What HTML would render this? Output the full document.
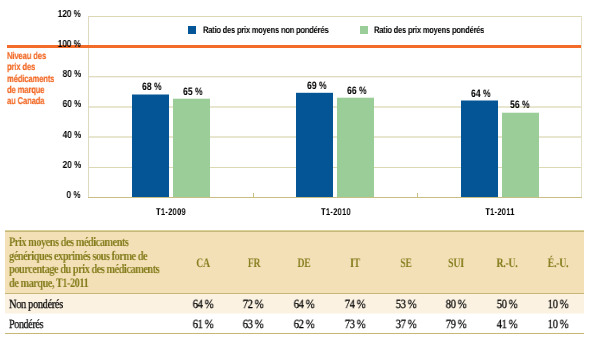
<!DOCTYPE html>
<html><head><meta charset="utf-8">
<style>
html,body{margin:0;padding:0;background:#fff;}
body{width:598px;height:343px;position:relative;overflow:hidden;font-family:"Liberation Sans",sans-serif;text-rendering:geometricPrecision;}
.a{position:absolute;white-space:nowrap;}
.s{font-family:"Liberation Sans",sans-serif;font-weight:bold;color:#000;line-height:12px;}
.g{position:absolute;left:88px;width:494px;height:1px;background:#dcd8b4;}
.serif{font-family:"Liberation Serif",serif;}
div[style*="transform"]{will-change:transform;}
</style></head><body>

<div class="g" style="top:16px"></div>
<div class="g" style="top:167px"></div>
<div class="g" style="top:76px;background:#e0dcbd"></div>
<div class="g" style="top:77px;background:#f4f2e8"></div>
<div class="g" style="top:106px;height:2px;background:#e9e6cf"></div>
<div class="g" style="top:136px;height:2px;background:#e9e6cf"></div>
<div class="a" style="left:88px;top:16px;width:1px;height:182px;background:#dedac0"></div>
<div class="a" style="left:581px;top:16px;width:1px;height:182px;background:#e3e0ca"></div>
<div class="a" style="left:253px;top:193px;width:1px;height:4px;background:#c9be84"></div>
<div class="a" style="left:417px;top:193px;width:1px;height:4px;background:#c9be84"></div>
<div class="a" style="left:7px;top:45px;width:574px;height:3px;background:#f26b28"></div>
<div class="a s" style="right:517px;top:9.7px;font-size:10.2px;line-height:10px;transform:scaleX(0.8);transform-origin:right top">120 %</div>
<div class="a s" style="right:517px;top:39.7px;font-size:10.2px;line-height:10px;transform:scaleX(0.8);transform-origin:right top">100 %</div>
<div class="a s" style="right:517px;top:69.7px;font-size:10.2px;line-height:10px;transform:scaleX(0.8);transform-origin:right top">80 %</div>
<div class="a s" style="right:517px;top:99.7px;font-size:10.2px;line-height:10px;transform:scaleX(0.8);transform-origin:right top">60 %</div>
<div class="a s" style="right:517px;top:130.7px;font-size:10.2px;line-height:10px;transform:scaleX(0.8);transform-origin:right top">40 %</div>
<div class="a s" style="right:517px;top:160.7px;font-size:10.2px;line-height:10px;transform:scaleX(0.8);transform-origin:right top">20 %</div>
<div class="a s" style="right:517px;top:190.7px;font-size:10.2px;line-height:10px;transform:scaleX(0.8);transform-origin:right top">0 %</div>
<div class="a" style="left:7px;top:50.7px;font-weight:bold;font-size:10px;line-height:11.3px;letter-spacing:-0.15px;color:#f26b28;-webkit-text-stroke:0.2px #f26b28;transform:scaleX(0.76);transform-origin:left top">Niveau des<br>prix des<br>médicaments<br>de marque<br>au Canada</div>
<div class="a" style="left:188px;top:26px;width:8px;height:8px;background:#035596"></div>
<div class="a s" style="left:203px;top:26px;font-size:9.5px;line-height:10px;letter-spacing:-0.3px;transform:scaleX(0.8);transform-origin:left top">Ratio des prix moyens non pondérés</div>
<div class="a" style="left:360px;top:26px;width:8px;height:8px;background:#9bcd99"></div>
<div class="a s" style="left:374px;top:26px;font-size:9.5px;line-height:10px;letter-spacing:-0.3px;transform:scaleX(0.8);transform-origin:left top">Ratio des prix moyens pondérés</div>
<div class="a" style="left:132px;top:95px;width:37px;height:102px;background:#035596"></div>
<div class="a" style="left:132px;top:94px;width:37px;height:1px;background:#035596;opacity:0.50"></div>
<div class="a s" style="left:142px;top:82px;font-size:10.8px;line-height:10px;transform:scaleX(0.8);transform-origin:left top">68 %</div>
<div class="a" style="left:173px;top:99px;width:37px;height:98px;background:#9bcd99"></div>
<div class="a" style="left:173px;top:98px;width:37px;height:1px;background:#9bcd99;opacity:0.30"></div>
<div class="a s" style="left:183px;top:87px;font-size:10.8px;line-height:10px;transform:scaleX(0.8);transform-origin:left top">65 %</div>
<div class="a" style="left:296px;top:93px;width:37px;height:104px;background:#035596"></div>
<div class="a" style="left:296px;top:92px;width:37px;height:1px;background:#035596;opacity:0.20"></div>
<div class="a s" style="left:307px;top:81px;font-size:10.8px;line-height:10px;transform:scaleX(0.8);transform-origin:left top">69 %</div>
<div class="a" style="left:337px;top:98px;width:37px;height:99px;background:#9bcd99"></div>
<div class="a" style="left:337px;top:97px;width:37px;height:1px;background:#9bcd99;opacity:0.30"></div>
<div class="a s" style="left:347px;top:86px;font-size:10.8px;line-height:10px;transform:scaleX(0.8);transform-origin:left top">66 %</div>
<div class="a" style="left:461px;top:101px;width:37px;height:96px;background:#035596"></div>
<div class="a" style="left:461px;top:100px;width:37px;height:1px;background:#035596;opacity:0.50"></div>
<div class="a s" style="left:470.5px;top:89px;font-size:10.8px;line-height:10px;transform:scaleX(0.8);transform-origin:left top">64 %</div>
<div class="a" style="left:502px;top:113px;width:37px;height:84px;background:#9bcd99"></div>
<div class="a" style="left:502px;top:112px;width:37px;height:1px;background:#9bcd99;opacity:0.30"></div>
<div class="a s" style="left:510px;top:100px;font-size:10.8px;line-height:10px;transform:scaleX(0.8);transform-origin:left top">56 %</div>
<div class="a s" style="left:131.2px;width:80px;text-align:center;top:207px;font-size:9.8px;line-height:12px;letter-spacing:0.4px;-webkit-text-stroke:0;transform:scaleX(0.76);transform-origin:center top">T1-2009</div>
<div class="a s" style="left:296.2px;width:80px;text-align:center;top:207px;font-size:9.8px;line-height:12px;letter-spacing:0.4px;-webkit-text-stroke:0;transform:scaleX(0.76);transform-origin:center top">T1-2010</div>
<div class="a s" style="left:459.7px;width:80px;text-align:center;top:207px;font-size:9.8px;line-height:12px;letter-spacing:0.4px;-webkit-text-stroke:0;transform:scaleX(0.76);transform-origin:center top">T1-2011</div>
<div class="g" style="top:197px;background:#c9be84"></div>
<div class="a" style="left:5px;top:230px;width:579px;height:1px;background:#ddd1a0"></div>
<div class="a" style="left:5px;top:231px;width:579px;height:1px;background:#c6b978"></div>
<div class="a" style="left:5px;top:232px;width:579px;height:61px;background:#f4e0b6"></div>
<div class="a" style="left:5px;top:293px;width:579px;height:1px;background:#c6b978"></div>
<div class="a" style="left:5px;top:294px;width:579px;height:19px;background:#fbf2e2"></div>
<div class="a" style="left:5px;top:313px;width:579px;height:1px;background:#fdf9f1"></div>
<div class="a" style="left:5px;top:333px;width:579px;height:1px;background:#c6b978"></div>
<div class="a serif" style="left:9px;top:235px;font-size:13px;line-height:13.6px;letter-spacing:-0.6px;font-weight:bold;color:#837c1c;transform:scaleX(0.795);transform-origin:left top">Prix moyens des médicaments<br>génériques exprimés sous forme de<br>pourcentage du prix des médicaments<br>de marque, T1-2011</div>
<div class="a serif" style="left:177.8px;width:50px;text-align:center;top:256px;font-size:13px;line-height:14px;letter-spacing:-0.3px;font-weight:bold;color:#837c1c;transform:scaleX(.75);transform-origin:center top">CA</div>
<div class="a serif" style="left:177.7px;width:50px;text-align:center;top:297px;font-size:12.5px;line-height:14px;letter-spacing:-0.5px;color:#000;-webkit-text-stroke:0.25px #000;transform:scaleX(.86);transform-origin:center top">64 %</div>
<div class="a serif" style="left:177.7px;width:50px;text-align:center;top:317px;font-size:12.5px;line-height:14px;letter-spacing:-0.5px;color:#000;-webkit-text-stroke:0.25px #000;transform:scaleX(.86);transform-origin:center top">61 %</div>
<div class="a serif" style="left:228.5px;width:50px;text-align:center;top:256px;font-size:13px;line-height:14px;letter-spacing:-0.3px;font-weight:bold;color:#837c1c;transform:scaleX(.75);transform-origin:center top">FR</div>
<div class="a serif" style="left:228.4px;width:50px;text-align:center;top:297px;font-size:12.5px;line-height:14px;letter-spacing:-0.5px;color:#000;-webkit-text-stroke:0.25px #000;transform:scaleX(.86);transform-origin:center top">72 %</div>
<div class="a serif" style="left:228.4px;width:50px;text-align:center;top:317px;font-size:12.5px;line-height:14px;letter-spacing:-0.5px;color:#000;-webkit-text-stroke:0.25px #000;transform:scaleX(.86);transform-origin:center top">63 %</div>
<div class="a serif" style="left:279.2px;width:50px;text-align:center;top:256px;font-size:13px;line-height:14px;letter-spacing:-0.3px;font-weight:bold;color:#837c1c;transform:scaleX(.75);transform-origin:center top">DE</div>
<div class="a serif" style="left:279.1px;width:50px;text-align:center;top:297px;font-size:12.5px;line-height:14px;letter-spacing:-0.5px;color:#000;-webkit-text-stroke:0.25px #000;transform:scaleX(.86);transform-origin:center top">64 %</div>
<div class="a serif" style="left:279.1px;width:50px;text-align:center;top:317px;font-size:12.5px;line-height:14px;letter-spacing:-0.5px;color:#000;-webkit-text-stroke:0.25px #000;transform:scaleX(.86);transform-origin:center top">62 %</div>
<div class="a serif" style="left:329.9px;width:50px;text-align:center;top:256px;font-size:13px;line-height:14px;letter-spacing:-0.3px;font-weight:bold;color:#837c1c;transform:scaleX(.75);transform-origin:center top">IT</div>
<div class="a serif" style="left:329.8px;width:50px;text-align:center;top:297px;font-size:12.5px;line-height:14px;letter-spacing:-0.5px;color:#000;-webkit-text-stroke:0.25px #000;transform:scaleX(.86);transform-origin:center top">74 %</div>
<div class="a serif" style="left:329.8px;width:50px;text-align:center;top:317px;font-size:12.5px;line-height:14px;letter-spacing:-0.5px;color:#000;-webkit-text-stroke:0.25px #000;transform:scaleX(.86);transform-origin:center top">73 %</div>
<div class="a serif" style="left:380.6px;width:50px;text-align:center;top:256px;font-size:13px;line-height:14px;letter-spacing:-0.3px;font-weight:bold;color:#837c1c;transform:scaleX(.75);transform-origin:center top">SE</div>
<div class="a serif" style="left:380.5px;width:50px;text-align:center;top:297px;font-size:12.5px;line-height:14px;letter-spacing:-0.5px;color:#000;-webkit-text-stroke:0.25px #000;transform:scaleX(.86);transform-origin:center top">53 %</div>
<div class="a serif" style="left:380.5px;width:50px;text-align:center;top:317px;font-size:12.5px;line-height:14px;letter-spacing:-0.5px;color:#000;-webkit-text-stroke:0.25px #000;transform:scaleX(.86);transform-origin:center top">37 %</div>
<div class="a serif" style="left:431.4px;width:50px;text-align:center;top:256px;font-size:13px;line-height:14px;letter-spacing:-0.3px;font-weight:bold;color:#837c1c;transform:scaleX(.75);transform-origin:center top">SUI</div>
<div class="a serif" style="left:431.2px;width:50px;text-align:center;top:297px;font-size:12.5px;line-height:14px;letter-spacing:-0.5px;color:#000;-webkit-text-stroke:0.25px #000;transform:scaleX(.86);transform-origin:center top">80 %</div>
<div class="a serif" style="left:431.2px;width:50px;text-align:center;top:317px;font-size:12.5px;line-height:14px;letter-spacing:-0.5px;color:#000;-webkit-text-stroke:0.25px #000;transform:scaleX(.86);transform-origin:center top">79 %</div>
<div class="a serif" style="left:482.1px;width:50px;text-align:center;top:256px;font-size:13px;line-height:14px;letter-spacing:-0.3px;font-weight:bold;color:#837c1c;transform:scaleX(.75);transform-origin:center top">R.-U.</div>
<div class="a serif" style="left:482.0px;width:50px;text-align:center;top:297px;font-size:12.5px;line-height:14px;letter-spacing:-0.5px;color:#000;-webkit-text-stroke:0.25px #000;transform:scaleX(.86);transform-origin:center top">50 %</div>
<div class="a serif" style="left:482.0px;width:50px;text-align:center;top:317px;font-size:12.5px;line-height:14px;letter-spacing:-0.5px;color:#000;-webkit-text-stroke:0.25px #000;transform:scaleX(.86);transform-origin:center top">41 %</div>
<div class="a serif" style="left:532.8px;width:50px;text-align:center;top:256px;font-size:13px;line-height:14px;letter-spacing:-0.3px;font-weight:bold;color:#837c1c;transform:scaleX(.75);transform-origin:center top">É.-U.</div>
<div class="a serif" style="left:532.7px;width:50px;text-align:center;top:297px;font-size:12.5px;line-height:14px;letter-spacing:-0.5px;color:#000;-webkit-text-stroke:0.25px #000;transform:scaleX(.86);transform-origin:center top">10 %</div>
<div class="a serif" style="left:532.7px;width:50px;text-align:center;top:317px;font-size:12.5px;line-height:14px;letter-spacing:-0.5px;color:#000;-webkit-text-stroke:0.25px #000;transform:scaleX(.86);transform-origin:center top">10 %</div>
<div class="a serif" style="left:9px;top:297px;font-size:12.5px;line-height:14px;letter-spacing:-0.4px;color:#000;-webkit-text-stroke:0.25px #000;transform:scaleX(.83);transform-origin:left top">Non pondérés</div>
<div class="a serif" style="left:9px;top:317px;font-size:12.5px;line-height:14px;letter-spacing:-0.4px;color:#000;-webkit-text-stroke:0.25px #000;transform:scaleX(.8);transform-origin:left top">Pondérés</div>
</body></html>
